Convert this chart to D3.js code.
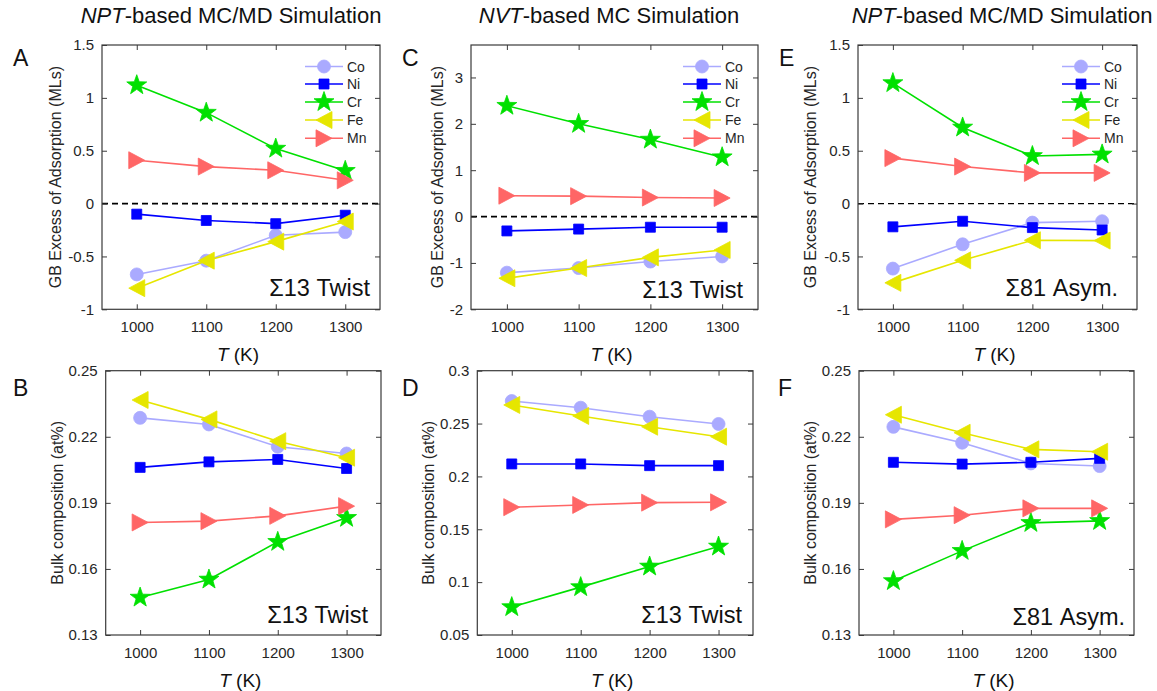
<!DOCTYPE html>
<html>
<head>
<meta charset="utf-8">
<script src="https://cdn.jsdelivr.net/npm/d3@7"></script>
<style>
  body { margin: 0; background: #fff; }
  svg { display: block; font-family: "Liberation Sans", Arial, Helvetica, sans-serif; }
</style>
</head>
<body>
<svg id="fig" width="1157" height="691"></svg>
<script>
// ---- data -------------------------------------------------------------
const temperatures = [1000, 1100, 1200, 1300];
const elements = ["Co", "Ni", "Cr", "Fe", "Mn"];

// A: NPT MC/MD, Σ13 twist — GB excess of adsorption (MLs)
const aCo = [-0.67, -0.54, -0.30, -0.27];
const aNi = [-0.10, -0.16, -0.19, -0.11];
const aCr = [1.12, 0.86, 0.52, 0.31];
const aFe = [-0.80, -0.54, -0.36, -0.17];
const aMn = [0.41, 0.35, 0.315, 0.22];

// B: NPT MC/MD, Σ13 twist — bulk composition
const bCo = [0.2286, 0.2256, 0.2155, 0.2124];
const bNi = [0.2061, 0.2086, 0.2097, 0.2056];
const bCr = [0.1470, 0.1552, 0.1723, 0.1832];
const bFe = [0.2367, 0.2279, 0.2180, 0.2105];
const bMn = [0.1811, 0.1817, 0.1841, 0.1885];

// C: NVT MC, Σ13 twist — GB excess of adsorption (MLs)
const cCo = [-1.21, -1.11, -0.97, -0.86];
const cNi = [-0.31, -0.27, -0.23, -0.23];
const cCr = [2.39, 2.00, 1.66, 1.28];
const cFe = [-1.33, -1.11, -0.88, -0.72];
const cMn = [0.45, 0.44, 0.41, 0.40];

// D: NVT MC, Σ13 twist — bulk composition
const dCo = [0.2713, 0.2650, 0.2565, 0.2496];
const dNi = [0.2118, 0.2118, 0.2102, 0.2102];
const dCr = [0.0764, 0.0953, 0.1148, 0.1337];
const dFe = [0.2676, 0.2572, 0.2470, 0.2376];
const dMn = [0.1709, 0.1730, 0.1752, 0.1755];

// E: NPT MC/MD, Σ81 asymmetric — GB excess of adsorption (MLs)
const eCo = [-0.615, -0.385, -0.18, -0.167];
const eNi = [-0.22, -0.167, -0.227, -0.25];
const eCr = [1.14, 0.72, 0.45, 0.465];
const eFe = [-0.75, -0.537, -0.347, -0.35];
const eMn = [0.43, 0.35, 0.29, 0.29];

// F: NPT MC/MD, Σ81 asymmetric — bulk composition
const fCo = [0.2245, 0.2173, 0.2079, 0.2067];
const fNi = [0.2084, 0.2076, 0.2084, 0.2102];
const fCr = [0.1545, 0.1682, 0.1809, 0.1818];
const fFe = [0.2300, 0.2218, 0.2143, 0.2132];
const fMn = [0.1825, 0.1844, 0.1875, 0.1875];

// tick values
const tempTicks = [1000, 1100, 1200, 1300];
const gbTicksNPT = [-1, -0.5, 0, 0.5, 1, 1.5];
const gbTicksNVT = [-2, -1, 0, 1, 2, 3];
const bulkTicksNPT = [0.13, 0.16, 0.19, 0.22, 0.25];
const bulkTicksNVT = [0.05, 0.1, 0.15, 0.2, 0.25, 0.3];

// ---- styles ------------------------------------------------------------
const colors = { Co: "#aaaaff", Ni: "#0000ff", Cr: "#00e000", Fe: "#e6e600", Mn: "#ff6666" };
const shapes = { Co: "circle", Ni: "square", Cr: "star", Fe: "triLeft", Mn: "triRight" };

function markerPath(shape) {
  switch (shape) {
    case "circle": {
      const r = 6.5;
      return `M${r},0A${r},${r},0,1,1,${-r},0A${r},${r},0,1,1,${r},0Z`;
    }
    case "square": return "M-5,-5H5V5H-5Z";
    case "star": {
      const R = 10.5, r = 4.2; let p = "";
      for (let i = 0; i < 10; i++) {
        const a = -Math.PI / 2 + i * Math.PI / 5, rr = i % 2 ? r : R;
        p += (i ? "L" : "M") + (rr * Math.cos(a)).toFixed(2) + "," + (rr * Math.sin(a)).toFixed(2);
      }
      return p + "Z";
    }
    case "triLeft": return "M-8,0L8,-8.5L8,8.5Z";
    case "triRight": return "M8,0L-8,-8.5L-8,8.5Z";
  }
}

const svg = d3.select("#fig");

const panels = [
  { id: "A", title: true, box: { l: 102, t: 45, r: 380, b: 309.3 }, y: [-1, 1.5], ticks: gbTicksNPT, zero: 1.8,
    ylabel: "GB Excess of Adsorption (MLs)", ylx: 55, note: "Σ13 Twist", noteX: 370, noteY: 288, legend: 305,
    series: { Co: aCo, Ni: aNi, Cr: aCr, Fe: aFe, Mn: aMn }, letter: [13, 66] },
  { id: "C", title: true, box: { l: 471, t: 45, r: 758, b: 309.3 }, y: [-2, 3.7], ticks: gbTicksNVT, zero: 1.8,
    ylabel: "GB Excess of Adsorption (MLs)", ylx: 437, note: "Σ13 Twist", noteX: 743, noteY: 290, legend: 683,
    series: { Co: cCo, Ni: cNi, Cr: cCr, Fe: cFe, Mn: cMn }, letter: [402, 66] },
  { id: "E", title: true, box: { l: 858, t: 45, r: 1137, b: 309.3 }, y: [-1, 1.5], ticks: gbTicksNPT, zero: 1.2,
    ylabel: "GB Excess of Adsorption (MLs)", ylx: 810, note: "Σ81 Asym.", noteX: 1118, noteY: 288, legend: 1062,
    series: { Co: eCo, Ni: eNi, Cr: eCr, Fe: eFe, Mn: eMn }, letter: [779, 66] },
  { id: "B", box: { l: 105.7, t: 370.7, r: 381, b: 635 }, y: [0.13, 0.25], ticks: bulkTicksNPT,
    ylabel: "Bulk composition (at%)", ylx: 57, note: "Σ13 Twist", noteX: 368, noteY: 615,
    series: { Co: bCo, Ni: bNi, Cr: bCr, Fe: bFe, Mn: bMn }, letter: [13, 396] },
  { id: "D", box: { l: 477.3, t: 370.7, r: 753, b: 635 }, y: [0.05, 0.3], ticks: bulkTicksNVT,
    ylabel: "Bulk composition (at%)", ylx: 428, note: "Σ13 Twist", noteX: 742, noteY: 615,
    series: { Co: dCo, Ni: dNi, Cr: dCr, Fe: dFe, Mn: dMn }, letter: [402, 396] },
  { id: "F", box: { l: 859, t: 370.7, r: 1134, b: 635 }, y: [0.13, 0.25], ticks: bulkTicksNPT,
    ylabel: "Bulk composition (at%)", ylx: 810, note: "Σ81 Asym.", noteX: 1125, noteY: 617,
    series: { Co: fCo, Ni: fNi, Cr: fCr, Fe: fFe, Mn: fMn }, letter: [778, 396] }
];

const axisColor = "#3a3a3a", textColor = "#262626";

panels.forEach(p => {
  const { l, t, r, b } = p.box;
  const x = d3.scaleLinear().domain([950, 1350]).range([l, r]);
  const y = d3.scaleLinear().domain(p.y).range([b, t]);
  const g = svg.append("g");

  // zero reference line for GB excess panels
  if (p.zero) {
    g.append("line").attr("x1", l).attr("x2", r).attr("y1", y(0)).attr("y2", y(0))
      .attr("stroke", "#000").attr("stroke-width", p.zero).attr("stroke-dasharray", "6,4");
  }

  // series
  elements.forEach(el => {
    const vals = p.series[el];
    const pts = temperatures.map((tt, i) => [x(tt), y(vals[i])]);
    g.append("path").attr("d", d3.line()(pts)).attr("fill", "none")
      .attr("stroke", colors[el]).attr("stroke-width", 1.6);
    g.selectAll(null).data(pts).join("path")
      .attr("transform", d => `translate(${d[0]},${d[1]})`)
      .attr("d", markerPath(shapes[el]))
      .attr("fill", colors[el]).attr("stroke", colors[el]).attr("stroke-width", 0.8);
  });

  // axes: ticks inside on all four sides
  const fmt = d => d3.format("")(d).replace("−", "-");
  const axL = d3.axisLeft(y).tickValues(p.ticks).tickSize(-5).tickPadding(8).tickFormat(d => String(d));
  const axR = d3.axisRight(y).tickValues(p.ticks).tickSize(-5).tickFormat("");
  const axB = d3.axisBottom(x).tickValues(tempTicks).tickSize(-5).tickPadding(12).tickFormat(d3.format("d"));
  const axT = d3.axisTop(x).tickValues(tempTicks).tickSize(-5).tickFormat("");
  const styleAxis = sel => {
    sel.selectAll("path.domain").attr("stroke", "none");
    sel.selectAll(".tick line").attr("stroke", axisColor).attr("stroke-width", 1);
    sel.selectAll(".tick text").attr("fill", textColor).attr("font-size", 15)
      .attr("font-family", "Liberation Sans, Arial, sans-serif");
  };
  g.append("g").attr("transform", `translate(${l},0)`).call(axL).call(styleAxis);
  g.append("g").attr("transform", `translate(${r},0)`).call(axR).call(styleAxis);
  g.append("g").attr("transform", `translate(0,${b})`).call(axB).call(styleAxis);
  g.append("g").attr("transform", `translate(0,${t})`).call(axT).call(styleAxis);
  g.append("rect").attr("x", l).attr("y", t).attr("width", r - l).attr("height", b - t)
    .attr("fill", "none").attr("stroke", axisColor).attr("stroke-width", 1.2);

  // axis labels
  g.append("text").attr("transform", `translate(${p.ylx},${(t + b) / 2}) rotate(-90)`)
    .attr("text-anchor", "middle").attr("dominant-baseline", "central")
    .attr("font-size", 16).attr("fill", textColor).text(p.ylabel);
  const xl = g.append("text").attr("x", (l + r) / 2 - 3).attr("y", b + 52)
    .attr("text-anchor", "middle").attr("font-size", 19).attr("fill", "#111");
  xl.append("tspan").attr("font-style", "italic").text("T");
  xl.append("tspan").text(" (K)");

  // boundary annotation
  g.append("text").attr("x", p.noteX).attr("y", p.noteY).attr("text-anchor", "end")
    .attr("dominant-baseline", "central").attr("font-size", 23.5).attr("fill", "#111").text(p.note);

  // panel letter
  g.append("text").attr("x", p.letter[0]).attr("y", p.letter[1]).attr("font-size", 23)
    .attr("fill", "#111").text(p.id);

  // legend
  if (p.legend) {
    const rows = [66.5, 84, 102, 120, 138.3];
    elements.forEach((el, i) => {
      const ly = rows[i], lx = p.legend;
      g.append("line").attr("x1", lx).attr("x2", lx + 38).attr("y1", ly).attr("y2", ly)
        .attr("stroke", colors[el]).attr("stroke-width", 1.6);
      g.append("path").attr("transform", `translate(${lx + 19},${ly})`).attr("d", markerPath(shapes[el]))
        .attr("fill", colors[el]).attr("stroke", colors[el]).attr("stroke-width", 0.8);
      g.append("text").attr("x", lx + 42).attr("y", ly).attr("dominant-baseline", "central")
        .attr("font-size", 14).attr("fill", textColor).text(el);
    });
  }
});

// column titles
const titles = [
  { x: 231, it: "NPT", rest: "-based MC/MD Simulation" },
  { x: 609, it: "NVT", rest: "-based MC Simulation" },
  { x: 1002, it: "NPT", rest: "-based MC/MD Simulation" }
];
titles.forEach(tl => {
  const tx = svg.append("text").attr("x", tl.x).attr("y", 23).attr("text-anchor", "middle")
    .attr("font-size", 22).attr("fill", "#111");
  tx.append("tspan").attr("font-style", "italic").text(tl.it);
  tx.append("tspan").text(tl.rest);
});
</script>
</body>
</html>
